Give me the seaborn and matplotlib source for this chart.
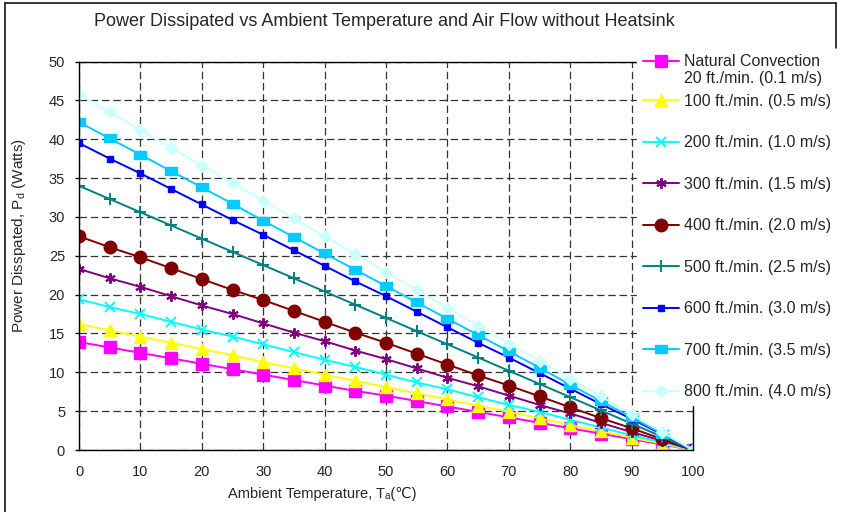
import numpy as np
import matplotlib
matplotlib.use("Agg")
import matplotlib.pyplot as plt
import seaborn as sns
from matplotlib.legend_handler import HandlerLine2D
from matplotlib.lines import Line2D
from matplotlib.path import Path

# ---------------- data ----------------
temps = [0, 5, 10, 15, 20, 25, 30, 35, 40, 45, 50, 55, 60, 65, 70, 75, 80, 85, 90, 95, 100]

natural = [13.9, 13.2, 12.5, 11.8, 11.1, 10.4, 9.7, 9.0, 8.3, 7.6, 7.0,
           6.3, 5.6, 4.9, 4.2, 3.5, 2.8, 2.1, 1.4, 0.7, 0.0]
ft100 = [16.2, 15.4, 14.6, 13.8, 13.0, 12.2, 11.3, 10.5, 9.7, 8.9, 8.1,
         7.3, 6.5, 5.7, 4.9, 4.1, 3.2, 2.4, 1.6, 0.8, 0.0]
ft200 = [19.4, 18.4, 17.5, 16.5, 15.5, 14.6, 13.6, 12.6, 11.6, 10.7, 9.7,
         8.7, 7.8, 6.8, 5.8, 4.9, 3.9, 2.9, 1.9, 1.0, 0.0]
ft300 = [23.3, 22.1, 21.0, 19.8, 18.6, 17.5, 16.3, 15.1, 14.0, 12.8, 11.7,
         10.5, 9.3, 8.2, 7.0, 5.8, 4.7, 3.5, 2.3, 1.2, 0.0]
ft400 = [27.5, 26.1, 24.8, 23.4, 22.0, 20.6, 19.3, 17.9, 16.5, 15.1, 13.8,
         12.4, 11.0, 9.6, 8.3, 6.9, 5.5, 4.1, 2.8, 1.4, 0.0]
ft500 = [34.0, 32.3, 30.6, 28.9, 27.2, 25.5, 23.8, 22.1, 20.4, 18.7, 17.0,
         15.3, 13.6, 11.9, 10.2, 8.5, 6.8, 5.1, 3.4, 1.7, 0.0]
ft600 = [39.5, 37.5, 35.6, 33.6, 31.6, 29.6, 27.7, 25.7, 23.7, 21.7, 19.8,
         17.8, 15.8, 13.8, 11.9, 9.9, 7.9, 5.9, 4.0, 2.0, 0.0]
ft700 = [42.2, 40.1, 38.0, 35.9, 33.8, 31.7, 29.5, 27.4, 25.3, 23.2, 21.1,
         19.0, 16.9, 14.8, 12.7, 10.6, 8.4, 6.3, 4.2, 2.1, 0.0]
ft800 = [45.8, 43.5, 41.2, 38.9, 36.6, 34.4, 32.1, 29.8, 27.5, 25.2, 22.9,
         20.6, 18.3, 16.0, 13.7, 11.5, 9.2, 6.9, 4.6, 2.3, 0.0]

series_labels = [
    "Natural Convection\n20 ft./min. (0.1 m/s)",
    "100 ft./min. (0.5 m/s)",
    "200 ft./min. (1.0 m/s)",
    "300 ft./min. (1.5 m/s)",
    "400 ft./min. (2.0 m/s)",
    "500 ft./min. (2.5 m/s)",
    "600 ft./min. (3.0 m/s)",
    "700 ft./min. (3.5 m/s)",
    "800 ft./min. (4.0 m/s)",
]
series_values = [natural, ft100, ft200, ft300, ft400, ft500, ft600, ft700, ft800]

title = "Power Dissipated vs Ambient Temperature and Air Flow without Heatsink"
xlabel = "Ambient Temperature, T\u2090(\u2103)"
ylabel = "Power Disspated, P$_\\mathregular{d}$ (Watts)"
xticks = [0, 10, 20, 30, 40, 50, 60, 70, 80, 90, 100]
yticks = [0, 5, 10, 15, 20, 25, 30, 35, 40, 45, 50]

# ---------------- styles ----------------
wide_rect = Path([(-1, -0.6), (1, -0.6), (1, 0.6), (-1, 0.6), (-1, -0.6)],
                 [Path.MOVETO, Path.LINETO, Path.LINETO, Path.LINETO, Path.CLOSEPOLY])
styles = [
    dict(color="#FF00FF", marker="s", ms=8.0, mew=1.0),
    dict(color="#FFFF00", marker="^", ms=8.0, mew=1.0),
    dict(color="#00FFFF", marker="x", ms=6.5, mew=1.4),
    dict(color="#800080", marker=(6, 2, 0), ms=7.5, mew=1.4),
    dict(color="#800000", marker="o", ms=9.0, mew=1.0),
    dict(color="#008080", marker="+", ms=8.0, mew=1.4),
    dict(color="#0000FF", marker="s", ms=5.0, mew=1.0),
    dict(color="#00CCFF", marker=wide_rect, ms=8.5, mew=1.0),
    dict(color="#CCFFFF", marker="D", ms=6.5, mew=1.0),
]

sns.set_style("white")
plt.rcParams["font.family"] = ["Liberation Sans", "DejaVu Sans"]
plt.rcParams["mathtext.fontset"] = "custom"
plt.rcParams["mathtext.rm"] = "Liberation Sans"
plt.rcParams["mathtext.it"] = "Liberation Sans:italic"

W, H = 842, 512
fig = plt.figure(figsize=(W / 100, H / 100), dpi=100)
fig.patch.set_facecolor("white")
ax_l, ax_r, ax_b, ax_t = 79, 693, 450, 61.5
ax = fig.add_axes([ax_l / W, (H - ax_b) / H, (ax_r - ax_l) / W, (ax_b - ax_t) / H])

for vals, lab, st in zip(series_values, series_labels, styles):
    sns.lineplot(x=temps, y=vals, ax=ax, color=st["color"], marker=st["marker"],
                 markersize=st["ms"], markeredgecolor=st["color"],
                 markerfacecolor=st["color"], markeredgewidth=st["mew"],
                 linewidth=1.4, label=lab)

ax.set_xlim(0, 100)
ax.set_ylim(0, 50)
ax.set_xticks(xticks)
ax.set_yticks(yticks)
ax.set_axisbelow(True)
ax.grid(True, color="#333333", linestyle=(0, (6, 3)), linewidth=0.9)
for sp in ax.spines.values():
    sp.set_visible(True)
    sp.set_color("black")
    sp.set_linewidth(1.0)
ax.tick_params(axis="y", direction="out", length=3, width=1, color="black",
               pad=7, labelsize=10.5, left=True)
ax.tick_params(axis="x", length=0, pad=11, labelsize=10.5)

ax.set_xlabel(xlabel, fontsize=10.5, va="center")
ax.xaxis.set_label_coords((322 - ax_l) / (ax_r - ax_l), (ax_b - 494) / (ax_b - ax_t))
ax.set_ylabel(ylabel, fontsize=11, va="center")
ax.yaxis.set_label_coords((19 - ax_l) / (ax_r - ax_l), (ax_b - 236) / (ax_b - ax_t))

fig.text(384 / W, 1 - 22 / H, title, ha="center", va="center", fontsize=13)


class UpHandler(HandlerLine2D):
    def __init__(self, dy, **kw):
        super().__init__(**kw)
        self._dy = dy

    def create_artists(self, *args, **kwargs):
        arts = super().create_artists(*args, **kwargs)
        for a in arts:
            a.set_ydata(np.asarray(a.get_ydata()) + self._dy)
        return arts


lines = ax.get_lines()
leg_kw = dict(fontsize=11.5, handlelength=2.3, handletextpad=0.3, borderpad=0.35,
              frameon=True, fancybox=False, facecolor="white", edgecolor="white",
              framealpha=1.0, loc="upper left", borderaxespad=0,
              bbox_transform=fig.transFigure, numpoints=1)
leg1 = ax.legend(handles=[lines[0]], labels=[series_labels[0]],
                 bbox_to_anchor=(637 / W, 1 - 48 / H),
                 handler_map={lines[0]: UpHandler(6.8)}, **leg_kw)
ax.add_artist(leg1)
leg2 = ax.legend(handles=lines[1:], labels=series_labels[1:],
                 bbox_to_anchor=(637 / W, 1 - 88 / H), labelspacing=1.66, **leg_kw)

# outer chart border
bk = dict(color="black", linewidth=1.1, transform=fig.transFigure)
fig.add_artist(Line2D([5 / W, 5 / W], [0, 1 - 3 / H], **bk))
fig.add_artist(Line2D([5 / W, 836 / W], [1 - 3 / H, 1 - 3 / H], **bk))
fig.add_artist(Line2D([836 / W, 836 / W], [1 - 3 / H, 1 - 48 / H], **bk))

fig.savefig("out.png", dpi=100)
